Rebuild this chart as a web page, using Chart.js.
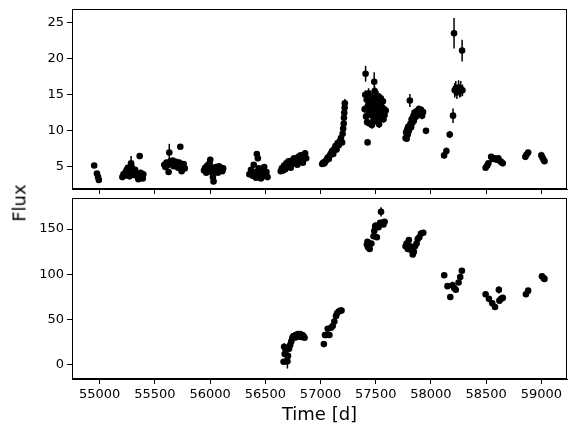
<!DOCTYPE html>
<html lang="en">
<head>
<meta charset="UTF-8">
<title>Flux light curve</title>
<script src="https://cdn.jsdelivr.net/npm/chart.js"></script>
<style>
  html, body { margin: 0; padding: 0; background: #fff; }
  body { width: 576px; height: 436px; position: relative; overflow: hidden; }
  .panel { position: absolute; left: 0; width: 576px; }
  #topBox { top: 0; height: 196px; }
  #botBox { top: 190px; height: 246px; }
  #fluxLabel {
    position: absolute; left: 19px; top: 203px;
    transform: translate(-50%, -50%) rotate(-90deg);
    font-family: 'DejaVu Sans', sans-serif; font-size: 18px; color: #000;
    white-space: nowrap;
  }
</style>
</head>
<body>
<div id="topBox" class="panel"><canvas id="topChart"></canvas></div>
<div id="botBox" class="panel"><canvas id="botChart"></canvas></div>
<div id="fluxLabel">Flux</div>
<script>
// x tick labels (shared) and y ticks per panel
const timeTicks = [55000, 55500, 56000, 56500, 57000, 57500, 58000, 58500, 59000];
const topTicks = [5, 10, 15, 20, 25];
const botTicks = [0, 50, 100, 150];

// top panel: time [d], flux, flux error
const topTime = [
  54950, 54975, 54985, 54992,
  55205, 55215, 55225, 55235, 55245, 55255, 55262, 55270, 55280, 55284, 55290, 55300, 55310, 55320, 55330, 55340, 55350, 55362, 55370, 55380, 55390, 55395,
  55585, 55595, 55605, 55615, 55624, 55630, 55640, 55650, 55660, 55670, 55680, 55690, 55700, 55710, 55720, 55730, 55735, 55742, 55750, 55760, 55770,
  55945, 55955, 55965, 55975, 55985, 55995, 56001, 56010, 56020, 56025, 56031, 56040, 56050, 56060, 56070, 56080, 56090, 56100, 56110, 56118,
  56355, 56370, 56385, 56395, 56405, 56415, 56423, 56432, 56440, 56450, 56460, 56470, 56480, 56490, 56500, 56510, 56520,
  56640, 56650, 56660, 56670, 56680, 56690, 56700, 56710, 56720, 56730, 56740, 56750, 56760, 56770, 56780, 56790, 56800, 56810, 56820, 56830, 56840, 56850, 56860, 56870,
  57015, 57025, 57035, 57045, 57055, 57065, 57075, 57085, 57095, 57105, 57115, 57125, 57135, 57145, 57155, 57165, 57175, 57185, 57195, 57200, 57205, 57210, 57212, 57215, 57218, 57220,
  57400, 57405, 57408, 57412, 57418, 57422, 57426, 57430, 57435, 57440, 57445, 57450, 57455, 57460, 57465, 57470, 57475, 57480, 57486, 57490, 57495, 57500, 57505, 57510, 57515, 57520, 57525, 57530, 57535, 57540, 57545, 57550, 57555, 57560, 57565, 57570, 57575, 57580, 57590,
  57770, 57775, 57780, 57785, 57790, 57795, 57800, 57809, 57815, 57820, 57825, 57830, 57840, 57845, 57850, 57860, 57870, 57880, 57890, 57900, 57910, 57920, 57928, 57955,
  58119, 58140, 58170, 58200, 58209, 58215, 58225, 58235, 58250, 58260, 58270, 58282, 58285,
  58495, 58510, 58520, 58545, 58560, 58575, 58595, 58610, 58620, 58635, 58650,
  58855, 58865, 58880,
  59000, 59010, 59020, 59028
];
const topFlux = [
  5.2, 4.1, 3.6, 3.2,
  3.6, 4.0, 3.8, 4.3, 4.6, 4.9, 4.2, 3.7, 4.5, 5.5, 5.0, 4.4, 3.9, 4.6, 4.1, 3.7, 3.3, 6.5, 4.2, 3.8, 3.4, 4.0,
  5.3, 5.0, 5.6, 5.2, 4.3, 7.0, 5.8, 5.4, 5.9, 5.1, 5.5, 5.7, 5.3, 4.9, 5.6, 7.8, 5.2, 4.4, 5.0, 5.4, 4.8,
  4.5, 4.9, 4.2, 5.2, 4.6, 5.5, 6.0, 4.3, 4.9, 3.6, 3.0, 4.4, 5.0, 4.7, 4.2, 5.1, 4.6, 4.9, 4.4, 4.8,
  4.0, 4.6, 3.8, 5.3, 4.3, 3.5, 6.8, 6.2, 4.8, 4.0, 3.4, 4.5, 3.7, 5.0, 3.9, 4.3, 3.6,
  4.4, 4.8, 4.5, 5.2, 4.7, 5.5, 5.0, 5.8, 5.3, 4.9, 5.9, 5.4, 6.2, 5.7, 6.0, 5.3, 6.4, 5.8, 6.6, 6.1, 5.6, 6.5, 6.9, 6.2,
  5.4, 5.6, 5.5, 5.8, 6.0, 6.3, 6.1, 6.6, 6.9, 7.2, 6.8, 7.5, 7.9, 7.4, 8.3, 8.0, 8.6, 9.0, 8.4, 9.6, 10.3, 11.0, 11.8, 12.5, 13.2, 13.8,
  13.0, 15.0, 17.9, 12.0, 14.3, 11.2, 8.4, 13.5, 15.2, 12.6, 11.0, 14.0, 12.2, 13.2, 10.8, 14.6, 12.8, 11.5, 16.8, 15.5, 13.6, 12.0, 14.2, 11.3, 13.0, 14.8, 12.4, 10.9, 13.7, 12.0, 14.5, 11.7, 13.3, 12.5, 14.1, 11.6, 13.0, 12.2, 12.8,
  9.0, 9.8, 8.9, 10.2, 9.5, 10.6, 10.0, 14.2, 11.0, 10.5, 11.6, 11.1, 12.0, 11.4, 12.5, 11.9, 12.7, 12.2, 13.0, 12.4, 12.9, 12.1, 12.6, 10.0,
  6.6, 7.2, 9.5, 12.1, 23.5, 15.6, 15.9, 15.3, 16.0, 15.5, 15.8, 21.1, 15.6,
  4.9, 5.2, 5.5, 6.4, 6.1, 6.2, 6.0, 6.2, 5.9, 5.7, 5.5,
  6.4, 6.7, 7.0,
  6.6, 6.3, 6.0, 5.8
];
const topErr = [
  0.25, 0.3, 0.3, 0.3,
  0.3, 0.3, 0.3, 0.3, 0.3, 0.3, 0.3, 0.3, 0.3, 1.0, 0.3, 0.3, 0.3, 0.3, 0.3, 0.3, 0.3, 0.3, 0.3, 0.3, 0.3, 0.3,
  0.3, 0.3, 0.3, 0.3, 0.3, 1.2, 0.3, 0.3, 0.3, 0.3, 0.3, 0.3, 0.3, 0.3, 0.3, 0.3, 0.3, 0.3, 0.3, 0.3, 0.3,
  0.3, 0.3, 0.3, 0.3, 0.3, 0.3, 0.4, 0.3, 0.3, 0.3, 0.3, 0.3, 0.3, 0.3, 0.3, 0.3, 0.3, 0.3, 0.3, 0.3,
  0.3, 0.3, 0.3, 0.3, 0.3, 0.3, 0.4, 0.4, 0.3, 0.3, 0.3, 0.3, 0.3, 0.3, 0.3, 0.3, 0.3,
  0.3, 0.3, 0.3, 0.3, 0.3, 0.3, 0.3, 0.4, 0.3, 0.3, 0.4, 0.3, 0.4, 0.3, 0.3, 0.3, 0.4, 0.3, 0.4, 0.3, 0.3, 0.4, 0.4, 0.3,
  0.3, 0.3, 0.3, 0.3, 0.3, 0.3, 0.3, 0.3, 0.3, 0.3, 0.3, 0.3, 0.3, 0.3, 0.3, 0.3, 0.3, 0.3, 0.3, 0.4, 0.4, 0.4, 0.5, 0.5, 0.7, 0.6,
  0.5, 0.6, 1.1, 0.5, 0.6, 0.5, 0.3, 0.6, 0.7, 0.5, 0.5, 0.6, 0.5, 0.6, 0.5, 0.6, 0.5, 0.5, 1.3, 0.7, 0.6, 0.5, 0.6, 0.5, 0.6, 0.7, 0.5, 0.5, 0.6, 0.5, 0.6, 0.5, 0.6, 0.5, 0.6, 0.5, 0.5, 0.5, 0.5,
  0.4, 0.4, 0.4, 0.4, 0.4, 0.4, 0.4, 0.9, 0.5, 0.4, 0.5, 0.4, 0.5, 0.5, 0.5, 0.5, 0.5, 0.5, 0.5, 0.5, 0.5, 0.5, 0.5, 0.3,
  0.4, 0.5, 0.5, 1.0, 2.1, 1.0, 1.0, 0.9, 1.0, 0.9, 1.1, 1.5, 0.8,
  0.3, 0.3, 0.3, 0.3, 0.4, 0.4, 0.3, 0.4, 0.3, 0.3, 0.3,
  0.3, 0.3, 0.3,
  0.5, 0.4, 0.3, 0.3
];

// bottom panel: time [d], flux, flux error
const botTime = [
  56665, 56670, 56675, 56685, 56690, 56700, 56705, 56715, 56725, 56735, 56745, 56755, 56765, 56775, 56785, 56795, 56805, 56815, 56825, 56835, 56845, 56855,
  57030, 57040, 57050, 57065, 57080, 57095, 57110, 57125, 57140, 57150, 57165, 57180, 57190,
  57420, 57425, 57430, 57438, 57445, 57460, 57480, 57487, 57495, 57500, 57510, 57525, 57540, 57548, 57560, 57570, 57580,
  57770, 57780, 57790, 57800, 57810, 57820, 57835, 57845, 57855, 57870, 57880, 57895, 57910, 57930,
  58120, 58150, 58175, 58195, 58210, 58225, 58250, 58265, 58280,
  58495, 58525, 58555, 58580, 58615, 58620, 58635, 58650,
  58860, 58880,
  59005, 59020, 59028
];
const botFlux = [
  3.5, 20, 12, 16, 4, 4, 10, 18, 22, 26, 30, 32, 30, 33, 31, 34, 32, 34, 31, 33, 32, 30,
  23, 33, 33, 40, 33, 41, 43, 48, 54, 57, 59, 60, 60,
  133, 136, 130, 131, 128, 134, 142, 148, 153, 154, 141, 152, 157, 169, 157, 155, 158,
  131, 134, 128, 138, 131, 127, 122, 125, 131, 134, 139, 141, 145, 146,
  99, 87, 75, 88, 85, 83, 91, 97, 104,
  78, 73, 68, 64, 83, 71, 73, 74,
  78, 82,
  98, 96, 95
];
const botErr = [
  2, 4, 3, 3, 2, 8, 3, 3, 2, 2, 2, 2, 2, 2, 2, 2, 2, 2, 2, 2, 2, 2,
  2, 2, 2, 2, 2, 2, 2, 2, 2, 2, 2, 2, 2,
  3, 3, 3, 3, 3, 3, 3, 4, 3, 3, 3, 3, 3, 5, 3, 3, 3,
  3, 3, 3, 3, 3, 3, 3, 3, 3, 3, 3, 3, 3, 3,
  2, 2, 2, 4, 3, 2, 2, 2, 2,
  2, 2, 2, 2, 4, 2, 2, 2,
  2, 2,
  2, 2, 2
];

Chart.defaults.font.family = "'DejaVu Sans', sans-serif";
Chart.defaults.color = '#000';

// draws vertical error bars and the full frame around the plot area
const errorBars = {
  id: 'errorBars',
  beforeDatasetsDraw(chart) {
    const ctx = chart.ctx;
    const xs = chart.scales.x, ys = chart.scales.y;
    ctx.save();
    ctx.strokeStyle = '#000';
    ctx.lineWidth = 1.5;
    chart.data.datasets.forEach(ds => {
      ds.data.forEach((p, i) => {
        const e = ds.errors[i];
        const px = xs.getPixelForValue(p.x);
        ctx.beginPath();
        ctx.moveTo(px, ys.getPixelForValue(p.y - e));
        ctx.lineTo(px, ys.getPixelForValue(p.y + e));
        ctx.stroke();
      });
    });
    ctx.restore();
  },
  afterDraw(chart) {
    const a = chart.chartArea;
    const ctx = chart.ctx;
    ctx.save();
    ctx.strokeStyle = '#000';
    ctx.lineWidth = 1;
    ctx.strokeRect(a.left + 0.5, a.top + 0.5, a.right - a.left - 1, a.bottom - a.top - 1);
    ctx.restore();
  }
};

function makePanel(id, times, flux, errs, yMin, yMax, yTicks, showX, axisH, pad) {
  const points = times.map((t, i) => ({ x: t, y: flux[i] }));
  return new Chart(document.getElementById(id), {
    type: 'scatter',
    data: {
      datasets: [{
        data: points,
        errors: errs,
        backgroundColor: '#000',
        borderColor: '#000',
        borderWidth: 0,
        pointRadius: 3.3,
        pointHoverRadius: 3.3
      }]
    },
    options: {
      responsive: true,
      maintainAspectRatio: false,
      animation: false,
      events: [],
      layout: { padding: pad },
      plugins: { legend: { display: false }, tooltip: { enabled: false } },
      scales: {
        x: {
          type: 'linear',
          min: 54749,
          max: 59232,
          afterBuildTicks: s => { s.ticks = timeTicks.map(v => ({ value: v })); },
          afterFit: s => { s.height = axisH; },
          grid: { drawOnChartArea: false, drawTicks: true, tickLength: 5, color: '#000', lineWidth: 1 },
          border: { display: true, color: '#000', width: 1 },
          ticks: { display: showX, font: { size: 13 }, padding: 3, maxRotation: 0, callback: v => String(v) },
          title: { display: showX, text: 'Time [d]', font: { size: 18 }, padding: { top: 0, bottom: 10 } }
        },
        y: {
          type: 'linear',
          min: yMin,
          max: yMax,
          afterBuildTicks: s => { s.ticks = yTicks.map(v => ({ value: v })); },
          afterFit: s => {
            s.width = 72;
            s.paddingTop = 0;
            s.paddingBottom = 0;
          },
          grid: { drawOnChartArea: false, drawTicks: true, tickLength: 5, color: '#000', lineWidth: 1 },
          border: { display: true, color: '#000', width: 1 },
          ticks: { font: { size: 13 }, padding: 3, callback: v => String(v) }
        }
      }
    },
    plugins: [errorBars]
  });
}

makePanel('topChart', topTime, topFlux, topErr, 1.95, 26.86, topTicks, false, 7,
  { top: 9, right: 9, left: 0, bottom: 0 });
makePanel('botChart', botTime, botFlux, botErr, -15.5, 184.3, botTicks, true, 57,
  { top: 8, right: 9, left: 0, bottom: 0 });
</script>
</body>
</html>
